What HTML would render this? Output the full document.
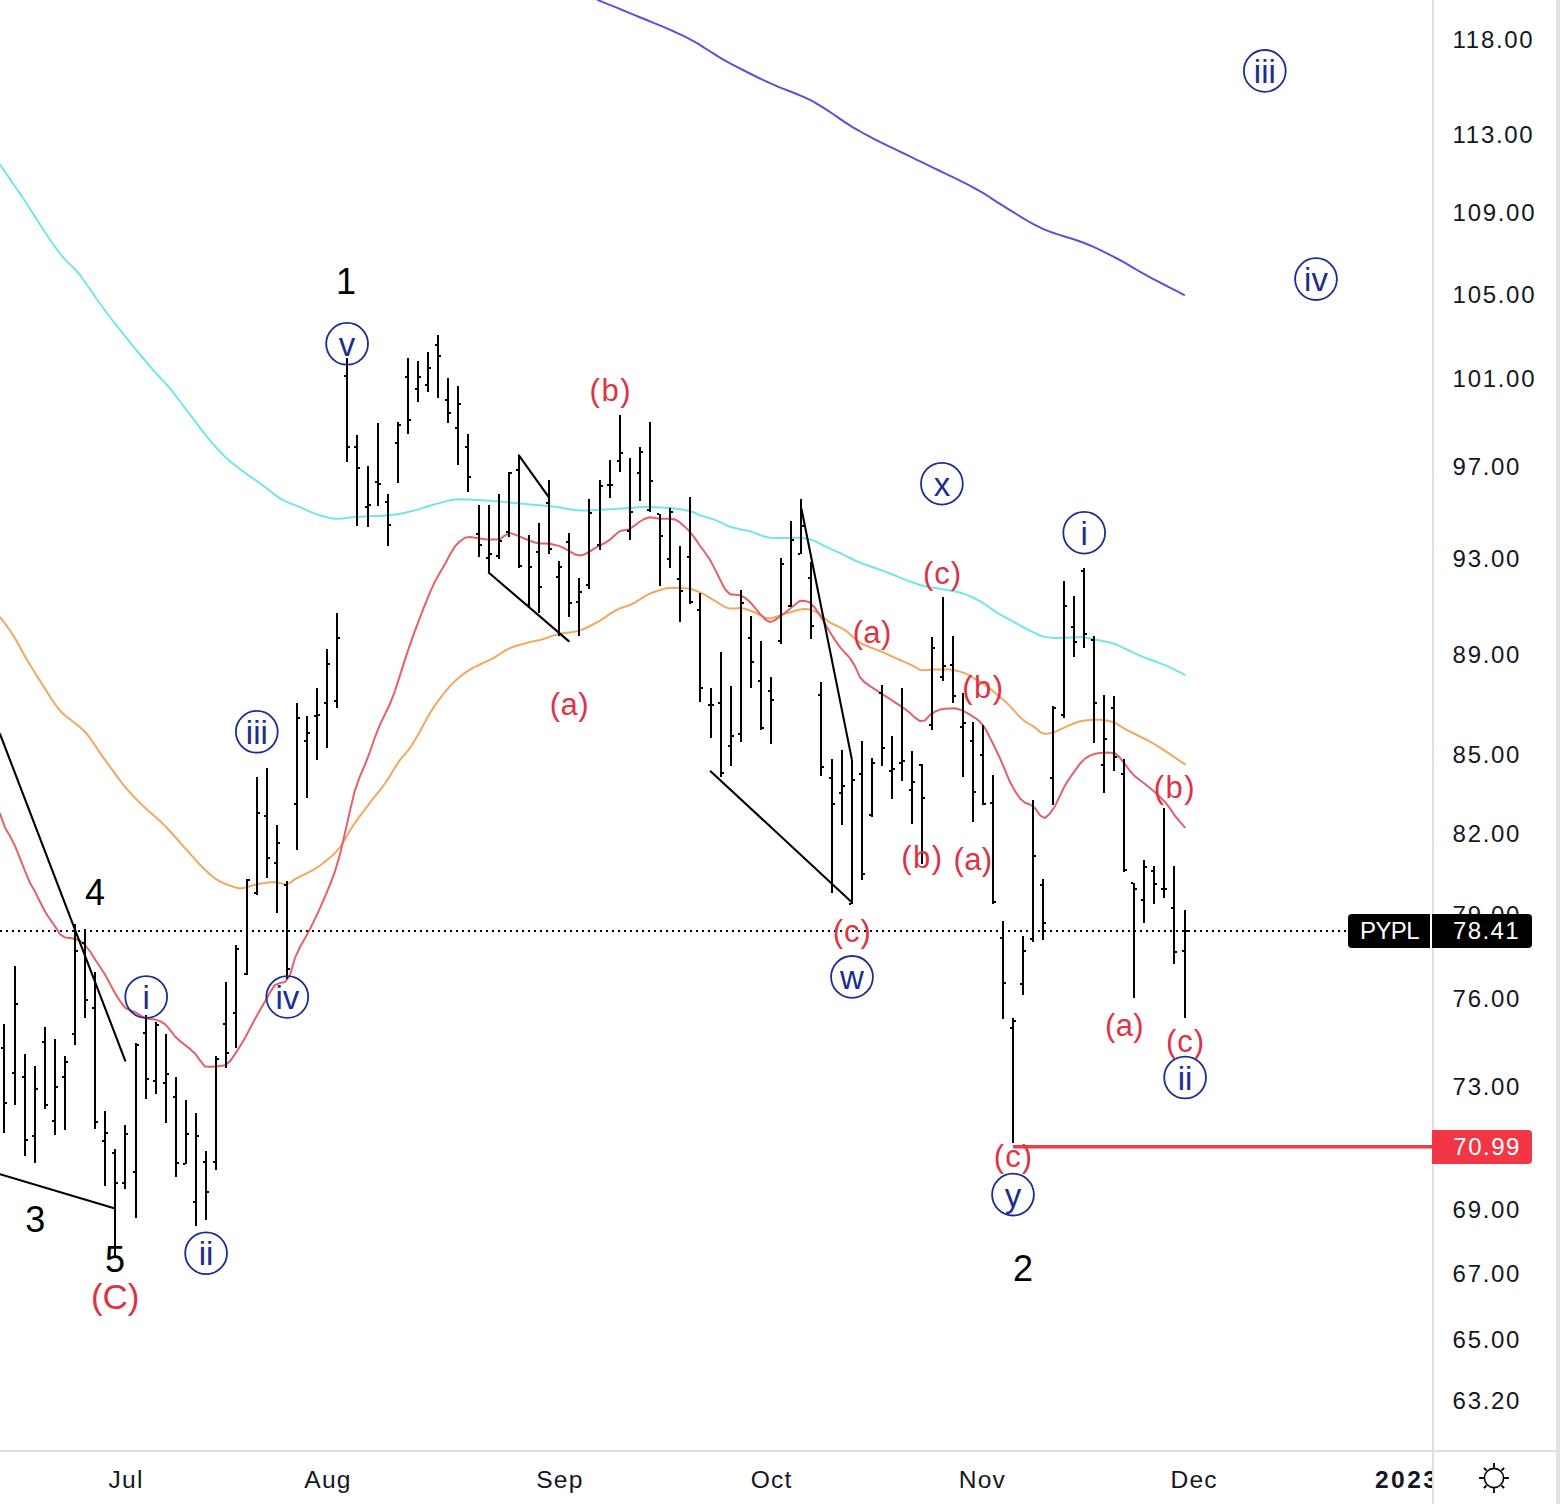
<!DOCTYPE html><html><head><meta charset="utf-8"><style>
html,body{margin:0;padding:0;background:#fff;}
body{width:1560px;height:1504px;overflow:hidden;font-family:"Liberation Sans",sans-serif;}
svg{display:block;}
</style></head><body>
<svg width="1560" height="1504" viewBox="0 0 1560 1504" font-family="Liberation Sans, sans-serif">
<rect x="0" y="0" width="1560" height="1504" fill="#ffffff"/>
<g fill="none" stroke-width="2" stroke-linejoin="round" stroke-linecap="round">
<path d="M597.9,0.0 L602.9,2.1 L607.9,4.1 L612.9,6.1 L617.9,8.2 L622.9,10.2 L627.9,12.3 L632.9,14.4 L637.9,16.5 L642.9,18.5 L647.9,20.5 L652.9,22.6 L657.9,24.6 L662.9,26.7 L667.9,28.8 L672.9,31.0 L677.9,33.3 L682.9,35.6 L687.9,38.1 L692.9,40.8 L697.9,43.7 L702.9,46.8 L707.9,50.0 L712.9,53.2 L717.9,56.3 L722.9,59.3 L727.9,62.1 L732.9,64.8 L737.9,67.4 L742.9,70.0 L747.9,72.5 L752.9,75.0 L757.9,77.5 L762.9,79.8 L767.9,82.2 L772.9,84.4 L777.9,86.6 L782.9,88.6 L787.9,90.5 L792.9,92.5 L797.9,94.5 L802.9,96.6 L807.9,98.9 L812.9,101.4 L817.9,104.3 L822.9,107.3 L827.9,110.6 L832.9,114.0 L837.9,117.4 L842.9,120.8 L847.9,124.1 L852.9,127.3 L857.9,130.2 L862.9,133.0 L867.9,135.7 L872.9,138.3 L877.9,140.8 L882.9,143.3 L887.9,145.8 L892.9,148.2 L897.9,150.6 L902.9,153.0 L907.9,155.4 L912.9,157.8 L917.9,160.3 L922.9,162.7 L927.9,165.2 L932.9,167.6 L937.9,170.0 L942.9,172.4 L947.9,174.8 L952.9,177.2 L957.9,179.6 L962.9,182.1 L967.9,184.7 L972.9,187.3 L977.9,190.0 L982.9,192.9 L987.9,196.0 L992.9,199.3 L997.9,202.6 L1002.9,205.7 L1007.9,208.8 L1012.9,211.9 L1017.9,215.0 L1022.9,218.1 L1027.9,221.0 L1032.9,223.8 L1037.9,226.4 L1042.9,228.8 L1047.9,230.9 L1052.9,232.7 L1057.9,234.4 L1062.9,236.0 L1067.9,237.5 L1072.9,239.0 L1077.9,240.7 L1082.9,242.5 L1087.9,244.5 L1092.9,246.6 L1097.9,248.9 L1102.9,251.3 L1107.9,253.8 L1112.9,256.4 L1117.9,259.0 L1122.9,261.7 L1127.9,264.6 L1132.9,267.6 L1137.9,270.5 L1142.9,273.4 L1147.9,276.1 L1152.9,278.8 L1157.9,281.4 L1162.9,284.0 L1167.9,286.6 L1172.9,289.1 L1177.9,291.7 L1182.9,294.3 L1184.1,294.9" stroke="#5b52d6"/>
<path d="M0.0,164.6 L5.0,171.8 L10.0,179.1 L15.0,186.3 L20.0,193.6 L25.0,201.0 L30.0,208.7 L35.0,216.6 L40.0,224.5 L45.0,232.3 L50.0,239.7 L55.0,246.9 L60.0,253.7 L65.0,259.6 L70.0,264.4 L75.0,269.2 L80.0,275.0 L85.0,282.0 L90.0,289.3 L95.0,296.6 L100.0,303.5 L105.0,310.3 L110.0,317.0 L115.0,323.6 L120.0,329.9 L125.0,336.2 L130.0,342.3 L135.0,348.4 L140.0,354.5 L145.0,360.5 L150.0,366.4 L155.0,372.1 L160.0,377.5 L165.0,382.9 L170.0,388.5 L175.0,394.7 L180.0,401.3 L185.0,408.0 L190.0,414.5 L195.0,421.2 L200.0,427.8 L205.0,434.2 L210.0,440.3 L215.0,446.1 L220.0,451.7 L225.0,456.8 L230.0,461.2 L235.0,465.3 L240.0,469.1 L245.0,472.8 L250.0,476.4 L255.0,479.9 L260.0,483.4 L265.0,487.0 L270.0,490.9 L275.0,494.9 L280.0,498.4 L285.0,501.1 L290.0,503.2 L295.0,505.1 L300.0,507.1 L305.0,509.4 L310.0,511.7 L315.0,513.6 L320.0,515.3 L325.0,516.8 L330.0,518.1 L335.0,518.7 L340.0,518.7 L345.0,518.2 L350.0,517.6 L355.0,517.0 L360.0,516.7 L365.0,516.5 L370.0,516.3 L375.0,516.1 L380.0,515.9 L385.0,515.6 L390.0,515.2 L395.0,514.5 L400.0,513.7 L405.0,512.7 L410.0,511.6 L415.0,510.4 L420.0,508.9 L425.0,507.3 L430.0,505.8 L435.0,504.3 L440.0,502.9 L445.0,501.6 L450.0,500.3 L455.0,499.5 L460.0,499.3 L465.0,499.4 L470.0,499.6 L475.0,499.9 L480.0,500.1 L485.0,500.4 L490.0,500.8 L495.0,501.2 L500.0,501.6 L505.0,502.0 L510.0,502.5 L515.0,503.0 L520.0,503.5 L525.0,503.9 L530.0,504.4 L535.0,504.9 L540.0,505.3 L545.0,505.8 L550.0,506.3 L555.0,506.8 L560.0,507.5 L565.0,508.4 L570.0,509.3 L575.0,510.1 L580.0,510.6 L585.0,510.6 L590.0,510.4 L595.0,510.1 L600.0,509.8 L605.0,509.5 L610.0,509.2 L615.0,508.9 L620.0,508.5 L625.0,508.2 L630.0,507.9 L635.0,507.5 L640.0,507.2 L645.0,507.0 L650.0,507.0 L655.0,507.2 L660.0,507.4 L665.0,507.7 L670.0,508.0 L675.0,508.5 L680.0,509.2 L685.0,510.1 L690.0,511.2 L695.0,513.0 L700.0,515.3 L705.0,516.9 L710.0,518.3 L715.0,519.9 L720.0,522.2 L725.0,524.7 L730.0,526.7 L735.0,528.1 L740.0,529.2 L745.0,530.2 L750.0,531.3 L755.0,533.0 L760.0,535.0 L765.0,536.8 L770.0,537.7 L775.0,537.9 L780.0,538.0 L785.0,538.1 L790.0,538.0 L795.0,537.8 L800.0,537.7 L805.0,538.4 L810.0,539.5 L815.0,541.1 L820.0,543.7 L825.0,546.4 L830.0,548.6 L835.0,550.8 L840.0,553.0 L845.0,555.4 L850.0,558.0 L855.0,560.5 L860.0,562.7 L865.0,564.5 L870.0,566.2 L875.0,568.0 L880.0,569.8 L885.0,571.6 L890.0,573.5 L895.0,575.5 L900.0,577.6 L905.0,579.6 L910.0,581.5 L915.0,583.3 L920.0,585.0 L925.0,586.3 L930.0,587.3 L935.0,588.0 L940.0,588.8 L945.0,589.7 L950.0,590.6 L955.0,591.5 L960.0,592.5 L965.0,594.1 L970.0,596.1 L975.0,598.5 L980.0,601.2 L985.0,604.3 L990.0,607.9 L995.0,611.3 L1000.0,614.3 L1005.0,617.1 L1010.0,619.9 L1015.0,622.7 L1020.0,625.5 L1025.0,628.1 L1030.0,630.7 L1035.0,633.1 L1040.0,635.5 L1045.0,637.1 L1050.0,637.6 L1055.0,637.9 L1060.0,637.9 L1065.0,637.7 L1070.0,637.4 L1075.0,637.2 L1080.0,637.1 L1085.0,637.5 L1090.0,638.6 L1095.0,639.7 L1100.0,640.6 L1105.0,641.5 L1110.0,642.5 L1115.0,644.0 L1120.0,646.3 L1125.0,648.7 L1130.0,651.0 L1135.0,653.3 L1140.0,655.6 L1145.0,657.7 L1150.0,659.5 L1155.0,661.3 L1160.0,663.1 L1165.0,665.1 L1170.0,667.4 L1175.0,669.9 L1180.0,672.4 L1184.8,674.8" stroke="#72e6ea"/>
<path d="M0.0,617.0 L5.0,623.7 L10.0,630.5 L15.0,638.2 L20.0,647.2 L25.0,656.3 L30.0,664.8 L35.0,673.0 L40.0,680.9 L45.0,688.6 L50.0,696.6 L55.0,704.2 L60.0,710.7 L65.0,715.5 L70.0,719.3 L75.0,723.3 L80.0,727.3 L85.0,731.9 L90.0,738.0 L95.0,745.4 L100.0,752.9 L105.0,759.9 L110.0,766.8 L115.0,773.7 L120.0,780.4 L125.0,786.8 L130.0,792.5 L135.0,797.9 L140.0,803.0 L145.0,807.8 L150.0,812.3 L155.0,816.4 L160.0,820.9 L165.0,825.9 L170.0,831.3 L175.0,836.7 L180.0,842.3 L185.0,848.1 L190.0,853.7 L195.0,859.3 L200.0,864.8 L205.0,869.8 L210.0,874.3 L215.0,878.4 L220.0,881.6 L225.0,883.8 L230.0,885.6 L235.0,887.2 L240.0,888.5 L245.0,887.8 L250.0,886.2 L255.0,884.7 L260.0,883.8 L265.0,882.9 L270.0,882.2 L275.0,881.9 L280.0,882.9 L285.0,884.4 L290.0,882.9 L295.0,879.1 L300.0,876.5 L305.0,874.2 L310.0,871.7 L315.0,868.9 L320.0,865.5 L325.0,861.6 L330.0,857.4 L335.0,852.9 L340.0,847.3 L345.0,839.4 L350.0,830.4 L355.0,822.8 L360.0,815.9 L365.0,809.3 L370.0,802.7 L375.0,796.3 L380.0,790.1 L385.0,783.5 L390.0,776.1 L395.0,767.6 L400.0,759.9 L405.0,754.1 L410.0,747.9 L415.0,740.0 L420.0,731.2 L425.0,722.0 L430.0,713.1 L435.0,705.1 L440.0,698.3 L445.0,692.0 L450.0,686.2 L455.0,681.1 L460.0,676.7 L465.0,672.9 L470.0,669.6 L475.0,666.9 L480.0,664.5 L485.0,662.2 L490.0,659.8 L495.0,657.2 L500.0,654.0 L505.0,650.6 L510.0,648.1 L515.0,646.3 L520.0,644.7 L525.0,643.4 L530.0,642.1 L535.0,641.1 L540.0,640.0 L545.0,638.5 L550.0,636.6 L555.0,634.9 L560.0,633.8 L565.0,633.1 L570.0,632.4 L575.0,631.6 L580.0,630.4 L585.0,628.5 L590.0,626.0 L595.0,623.4 L600.0,620.6 L605.0,617.3 L610.0,613.9 L615.0,610.8 L620.0,608.3 L625.0,606.7 L630.0,605.0 L635.0,602.5 L640.0,599.3 L645.0,596.1 L650.0,593.5 L655.0,591.7 L660.0,590.0 L665.0,588.6 L670.0,587.9 L675.0,587.8 L680.0,588.0 L685.0,588.2 L690.0,588.7 L695.0,590.3 L700.0,592.4 L705.0,594.9 L710.0,597.9 L715.0,600.8 L720.0,604.0 L725.0,607.1 L730.0,608.6 L735.0,608.4 L740.0,608.1 L745.0,608.7 L750.0,610.5 L755.0,612.5 L760.0,615.1 L765.0,617.5 L770.0,618.5 L775.0,617.3 L780.0,615.2 L785.0,613.6 L790.0,612.2 L795.0,610.8 L800.0,609.5 L805.0,609.1 L810.0,609.6 L815.0,611.4 L820.0,614.4 L825.0,618.8 L830.0,622.6 L835.0,625.0 L840.0,627.3 L845.0,630.1 L850.0,634.2 L855.0,638.8 L860.0,642.7 L865.0,645.3 L870.0,647.3 L875.0,649.1 L880.0,651.0 L885.0,653.2 L890.0,655.5 L895.0,657.8 L900.0,660.0 L905.0,662.1 L910.0,664.3 L915.0,667.0 L920.0,669.9 L925.0,670.3 L930.0,669.7 L935.0,669.6 L940.0,669.6 L945.0,669.6 L950.0,669.6 L955.0,670.3 L960.0,671.6 L965.0,673.4 L970.0,675.9 L975.0,678.8 L980.0,681.8 L985.0,685.1 L990.0,688.8 L995.0,692.7 L1000.0,696.9 L1005.0,701.3 L1010.0,706.1 L1015.0,711.7 L1020.0,717.3 L1025.0,721.6 L1030.0,724.5 L1035.0,727.4 L1040.0,732.0 L1045.0,733.9 L1050.0,733.2 L1055.0,732.0 L1060.0,729.7 L1065.0,727.2 L1070.0,725.1 L1075.0,723.0 L1080.0,721.2 L1085.0,720.4 L1090.0,720.0 L1095.0,719.7 L1100.0,719.7 L1105.0,720.3 L1110.0,721.3 L1115.0,722.8 L1120.0,725.8 L1125.0,729.0 L1130.0,731.6 L1135.0,734.0 L1140.0,736.5 L1145.0,739.0 L1150.0,741.6 L1155.0,744.5 L1160.0,747.7 L1165.0,750.9 L1170.0,754.2 L1175.0,757.6 L1180.0,761.0 L1184.8,764.2" stroke="#f2a85e"/>
<path d="M0.0,813.5 L5.0,827.7 L10.0,836.1 L15.0,845.9 L20.0,858.4 L25.0,871.0 L30.0,883.0 L35.0,891.6 L40.0,901.7 L45.0,911.5 L50.0,919.2 L55.0,926.4 L60.0,934.3 L65.0,937.4 L70.0,938.1 L75.0,939.0 L80.0,940.7 L85.0,945.0 L90.0,951.3 L95.0,959.4 L100.0,966.7 L105.0,974.5 L110.0,983.9 L115.0,993.2 L120.0,1001.2 L125.0,1007.6 L130.0,1010.3 L135.0,1012.1 L140.0,1015.2 L145.0,1018.1 L150.0,1019.1 L155.0,1019.6 L160.0,1021.1 L165.0,1024.1 L170.0,1029.9 L175.0,1036.5 L180.0,1041.1 L185.0,1045.0 L190.0,1048.9 L195.0,1053.4 L200.0,1060.4 L205.0,1066.6 L210.0,1066.8 L215.0,1066.5 L220.0,1066.0 L225.0,1065.3 L230.0,1061.4 L235.0,1054.1 L240.0,1046.2 L245.0,1037.9 L250.0,1028.5 L255.0,1019.0 L260.0,1010.1 L265.0,1001.5 L270.0,992.4 L275.0,984.9 L280.0,983.1 L285.0,982.1 L290.0,975.1 L295.0,957.8 L300.0,947.0 L305.0,938.2 L310.0,929.0 L315.0,918.9 L320.0,908.2 L325.0,896.7 L330.0,884.7 L335.0,871.3 L340.0,854.4 L345.0,832.7 L350.0,810.6 L355.0,790.1 L360.0,776.1 L365.0,764.6 L370.0,751.5 L375.0,737.0 L380.0,724.6 L385.0,714.3 L390.0,703.8 L395.0,690.8 L400.0,675.4 L405.0,659.4 L410.0,644.6 L415.0,630.6 L420.0,617.5 L425.0,604.7 L430.0,592.3 L435.0,581.3 L440.0,572.6 L445.0,564.0 L450.0,554.5 L455.0,546.4 L460.0,541.3 L465.0,537.7 L470.0,537.1 L475.0,537.7 L480.0,538.5 L485.0,539.2 L490.0,539.4 L495.0,539.4 L500.0,539.3 L505.0,535.4 L510.0,533.1 L515.0,534.6 L520.0,536.7 L525.0,538.7 L530.0,540.8 L535.0,542.6 L540.0,543.4 L545.0,543.6 L550.0,543.8 L555.0,544.9 L560.0,546.4 L565.0,548.6 L570.0,551.7 L575.0,554.4 L580.0,555.5 L585.0,554.2 L590.0,551.3 L595.0,548.1 L600.0,545.4 L605.0,542.8 L610.0,539.7 L615.0,535.1 L620.0,531.0 L625.0,530.1 L630.0,528.9 L635.0,525.2 L640.0,521.5 L645.0,518.7 L650.0,517.3 L655.0,517.9 L660.0,518.7 L665.0,518.7 L670.0,518.7 L675.0,519.4 L680.0,522.4 L685.0,526.9 L690.0,531.8 L695.0,538.4 L700.0,545.8 L705.0,552.5 L710.0,559.7 L715.0,569.4 L720.0,579.5 L725.0,589.2 L730.0,594.3 L735.0,594.7 L740.0,595.2 L745.0,597.8 L750.0,602.0 L755.0,607.9 L760.0,613.9 L765.0,619.3 L770.0,622.1 L775.0,620.1 L780.0,616.4 L785.0,612.8 L790.0,608.8 L795.0,604.6 L800.0,600.8 L805.0,600.9 L810.0,602.5 L815.0,608.0 L820.0,615.3 L825.0,623.8 L830.0,632.3 L835.0,640.1 L840.0,647.2 L845.0,652.8 L850.0,658.1 L855.0,666.1 L860.0,677.3 L865.0,682.7 L870.0,686.1 L875.0,689.4 L880.0,692.7 L885.0,695.8 L890.0,699.0 L895.0,702.3 L900.0,705.6 L905.0,709.0 L910.0,713.0 L915.0,717.7 L920.0,721.1 L925.0,720.5 L930.0,714.8 L935.0,711.7 L940.0,709.6 L945.0,708.8 L950.0,708.4 L955.0,708.2 L960.0,709.7 L965.0,711.9 L970.0,714.7 L975.0,717.8 L980.0,721.8 L985.0,728.0 L990.0,737.8 L995.0,747.8 L1000.0,758.3 L1005.0,770.0 L1010.0,782.1 L1015.0,791.1 L1020.0,798.4 L1025.0,802.7 L1030.0,804.5 L1035.0,808.0 L1040.0,815.3 L1045.0,818.1 L1050.0,813.4 L1055.0,806.2 L1060.0,795.5 L1065.0,785.4 L1070.0,777.7 L1075.0,770.7 L1080.0,763.7 L1085.0,758.6 L1090.0,755.6 L1095.0,753.8 L1100.0,753.0 L1105.0,752.6 L1110.0,752.7 L1115.0,753.2 L1120.0,757.8 L1125.0,764.1 L1130.0,771.0 L1135.0,776.4 L1140.0,780.3 L1145.0,784.0 L1150.0,788.1 L1155.0,792.3 L1160.0,796.9 L1165.0,801.9 L1170.0,808.4 L1175.0,816.0 L1180.0,821.9 L1184.8,827.3" stroke="#e2616a"/>
</g>
<g stroke="#000" stroke-width="2.1" stroke-linecap="round">
<line x1="0" y1="734" x2="125.2" y2="1060.6"/>
<line x1="0" y1="1174.2" x2="115" y2="1208.4"/>
<line x1="488.9" y1="572.7" x2="568.7" y2="641.1"/>
<line x1="518.9" y1="455.4" x2="548.9" y2="497.3"/>
<line x1="801.5" y1="509" x2="851.8" y2="759.1"/>
<line x1="710.8" y1="771.4" x2="851.8" y2="902.2"/>
</g>
<g fill="#000" shape-rendering="crispEdges">
<rect x="3" y="1024" width="2" height="109"/>
<rect x="1" y="1047" width="2" height="2"/>
<rect x="5" y="1102" width="2" height="2"/>
<rect x="14" y="966" width="2" height="139"/>
<rect x="12" y="1072" width="2" height="2"/>
<rect x="16" y="1003" width="2" height="2"/>
<rect x="24" y="1054" width="2" height="102"/>
<rect x="22" y="1076" width="2" height="2"/>
<rect x="26" y="1139" width="2" height="2"/>
<rect x="34" y="1066" width="2" height="97"/>
<rect x="32" y="1135" width="2" height="2"/>
<rect x="36" y="1088" width="2" height="2"/>
<rect x="44" y="1027" width="2" height="82"/>
<rect x="42" y="1041" width="2" height="2"/>
<rect x="46" y="1104" width="2" height="2"/>
<rect x="54" y="1039" width="2" height="96"/>
<rect x="52" y="1120" width="2" height="2"/>
<rect x="56" y="1086" width="2" height="2"/>
<rect x="64" y="1056" width="2" height="74"/>
<rect x="62" y="1076" width="2" height="2"/>
<rect x="66" y="1061" width="2" height="2"/>
<rect x="74" y="924" width="2" height="121"/>
<rect x="72" y="1033" width="2" height="2"/>
<rect x="76" y="950" width="2" height="2"/>
<rect x="84" y="929" width="2" height="89"/>
<rect x="82" y="942" width="2" height="2"/>
<rect x="86" y="999" width="2" height="2"/>
<rect x="94" y="972" width="2" height="157"/>
<rect x="92" y="1007" width="2" height="2"/>
<rect x="96" y="1121" width="2" height="2"/>
<rect x="104" y="1111" width="2" height="75"/>
<rect x="102" y="1140" width="2" height="2"/>
<rect x="106" y="1132" width="2" height="2"/>
<rect x="114" y="1149" width="2" height="107"/>
<rect x="112" y="1152" width="2" height="2"/>
<rect x="116" y="1182" width="2" height="2"/>
<rect x="124" y="1125" width="2" height="64"/>
<rect x="122" y="1182" width="2" height="2"/>
<rect x="126" y="1133" width="2" height="2"/>
<rect x="135" y="1043" width="2" height="175"/>
<rect x="133" y="1171" width="2" height="2"/>
<rect x="137" y="1044" width="2" height="2"/>
<rect x="145" y="1015" width="2" height="84"/>
<rect x="143" y="1032" width="2" height="2"/>
<rect x="147" y="1078" width="2" height="2"/>
<rect x="155" y="1022" width="2" height="72"/>
<rect x="153" y="1080" width="2" height="2"/>
<rect x="157" y="1024" width="2" height="2"/>
<rect x="165" y="1034" width="2" height="89"/>
<rect x="163" y="1082" width="2" height="2"/>
<rect x="167" y="1073" width="2" height="2"/>
<rect x="175" y="1077" width="2" height="100"/>
<rect x="173" y="1096" width="2" height="2"/>
<rect x="177" y="1162" width="2" height="2"/>
<rect x="185" y="1100" width="2" height="64"/>
<rect x="183" y="1163" width="2" height="2"/>
<rect x="187" y="1133" width="2" height="2"/>
<rect x="195" y="1113" width="2" height="113"/>
<rect x="193" y="1201" width="2" height="2"/>
<rect x="197" y="1135" width="2" height="2"/>
<rect x="205" y="1151" width="2" height="69"/>
<rect x="203" y="1161" width="2" height="2"/>
<rect x="207" y="1191" width="2" height="2"/>
<rect x="215" y="1056" width="2" height="114"/>
<rect x="213" y="1161" width="2" height="2"/>
<rect x="217" y="1058" width="2" height="2"/>
<rect x="225" y="982" width="2" height="86"/>
<rect x="223" y="1023" width="2" height="2"/>
<rect x="227" y="1052" width="2" height="2"/>
<rect x="235" y="945" width="2" height="103"/>
<rect x="233" y="1012" width="2" height="2"/>
<rect x="237" y="948" width="2" height="2"/>
<rect x="246" y="879" width="2" height="96"/>
<rect x="244" y="973" width="2" height="2"/>
<rect x="248" y="879" width="2" height="2"/>
<rect x="256" y="777" width="2" height="118"/>
<rect x="254" y="892" width="2" height="2"/>
<rect x="258" y="812" width="2" height="2"/>
<rect x="266" y="768" width="2" height="110"/>
<rect x="264" y="815" width="2" height="2"/>
<rect x="268" y="857" width="2" height="2"/>
<rect x="276" y="825" width="2" height="88"/>
<rect x="274" y="862" width="2" height="2"/>
<rect x="278" y="842" width="2" height="2"/>
<rect x="286" y="881" width="2" height="98"/>
<rect x="284" y="884" width="2" height="2"/>
<rect x="288" y="968" width="2" height="2"/>
<rect x="296" y="703" width="2" height="147"/>
<rect x="294" y="803" width="2" height="2"/>
<rect x="298" y="717" width="2" height="2"/>
<rect x="306" y="716" width="2" height="82"/>
<rect x="304" y="740" width="2" height="2"/>
<rect x="308" y="732" width="2" height="2"/>
<rect x="316" y="688" width="2" height="72"/>
<rect x="314" y="715" width="2" height="2"/>
<rect x="318" y="714" width="2" height="2"/>
<rect x="326" y="649" width="2" height="99"/>
<rect x="324" y="702" width="2" height="2"/>
<rect x="328" y="663" width="2" height="2"/>
<rect x="336" y="613" width="2" height="95"/>
<rect x="334" y="700" width="2" height="2"/>
<rect x="338" y="637" width="2" height="2"/>
<rect x="346" y="358" width="2" height="104"/>
<rect x="344" y="375" width="2" height="2"/>
<rect x="348" y="446" width="2" height="2"/>
<rect x="356" y="435" width="2" height="91"/>
<rect x="354" y="446" width="2" height="2"/>
<rect x="358" y="467" width="2" height="2"/>
<rect x="367" y="466" width="2" height="61"/>
<rect x="365" y="506" width="2" height="2"/>
<rect x="369" y="504" width="2" height="2"/>
<rect x="377" y="423" width="2" height="83"/>
<rect x="375" y="481" width="2" height="2"/>
<rect x="379" y="483" width="2" height="2"/>
<rect x="387" y="494" width="2" height="52"/>
<rect x="385" y="501" width="2" height="2"/>
<rect x="389" y="524" width="2" height="2"/>
<rect x="397" y="422" width="2" height="61"/>
<rect x="395" y="442" width="2" height="2"/>
<rect x="399" y="424" width="2" height="2"/>
<rect x="407" y="358" width="2" height="76"/>
<rect x="405" y="376" width="2" height="2"/>
<rect x="409" y="419" width="2" height="2"/>
<rect x="417" y="361" width="2" height="41"/>
<rect x="415" y="388" width="2" height="2"/>
<rect x="419" y="376" width="2" height="2"/>
<rect x="427" y="352" width="2" height="40"/>
<rect x="425" y="384" width="2" height="2"/>
<rect x="429" y="367" width="2" height="2"/>
<rect x="437" y="335" width="2" height="63"/>
<rect x="435" y="344" width="2" height="2"/>
<rect x="439" y="355" width="2" height="2"/>
<rect x="447" y="378" width="2" height="45"/>
<rect x="445" y="399" width="2" height="2"/>
<rect x="449" y="412" width="2" height="2"/>
<rect x="457" y="386" width="2" height="79"/>
<rect x="455" y="427" width="2" height="2"/>
<rect x="459" y="403" width="2" height="2"/>
<rect x="467" y="434" width="2" height="58"/>
<rect x="465" y="446" width="2" height="2"/>
<rect x="469" y="476" width="2" height="2"/>
<rect x="478" y="505" width="2" height="52"/>
<rect x="476" y="533" width="2" height="2"/>
<rect x="480" y="544" width="2" height="2"/>
<rect x="488" y="505" width="2" height="69"/>
<rect x="486" y="557" width="2" height="2"/>
<rect x="490" y="553" width="2" height="2"/>
<rect x="498" y="494" width="2" height="65"/>
<rect x="496" y="555" width="2" height="2"/>
<rect x="500" y="540" width="2" height="2"/>
<rect x="508" y="472" width="2" height="65"/>
<rect x="506" y="531" width="2" height="2"/>
<rect x="510" y="472" width="2" height="2"/>
<rect x="518" y="455" width="2" height="113"/>
<rect x="516" y="469" width="2" height="2"/>
<rect x="520" y="565" width="2" height="2"/>
<rect x="528" y="535" width="2" height="73"/>
<rect x="526" y="604" width="2" height="2"/>
<rect x="530" y="566" width="2" height="2"/>
<rect x="538" y="523" width="2" height="90"/>
<rect x="536" y="551" width="2" height="2"/>
<rect x="540" y="586" width="2" height="2"/>
<rect x="548" y="480" width="2" height="74"/>
<rect x="546" y="502" width="2" height="2"/>
<rect x="550" y="548" width="2" height="2"/>
<rect x="558" y="561" width="2" height="75"/>
<rect x="556" y="576" width="2" height="2"/>
<rect x="560" y="566" width="2" height="2"/>
<rect x="568" y="533" width="2" height="84"/>
<rect x="566" y="541" width="2" height="2"/>
<rect x="570" y="602" width="2" height="2"/>
<rect x="578" y="578" width="2" height="58"/>
<rect x="576" y="601" width="2" height="2"/>
<rect x="580" y="591" width="2" height="2"/>
<rect x="588" y="499" width="2" height="90"/>
<rect x="586" y="584" width="2" height="2"/>
<rect x="590" y="512" width="2" height="2"/>
<rect x="599" y="480" width="2" height="70"/>
<rect x="597" y="544" width="2" height="2"/>
<rect x="601" y="485" width="2" height="2"/>
<rect x="609" y="460" width="2" height="38"/>
<rect x="607" y="484" width="2" height="2"/>
<rect x="611" y="484" width="2" height="2"/>
<rect x="619" y="415" width="2" height="57"/>
<rect x="617" y="460" width="2" height="2"/>
<rect x="621" y="452" width="2" height="2"/>
<rect x="629" y="458" width="2" height="82"/>
<rect x="627" y="530" width="2" height="2"/>
<rect x="631" y="511" width="2" height="2"/>
<rect x="639" y="447" width="2" height="54"/>
<rect x="637" y="472" width="2" height="2"/>
<rect x="641" y="451" width="2" height="2"/>
<rect x="649" y="422" width="2" height="90"/>
<rect x="647" y="509" width="2" height="2"/>
<rect x="651" y="480" width="2" height="2"/>
<rect x="659" y="514" width="2" height="72"/>
<rect x="657" y="513" width="2" height="2"/>
<rect x="661" y="535" width="2" height="2"/>
<rect x="669" y="508" width="2" height="60"/>
<rect x="667" y="558" width="2" height="2"/>
<rect x="671" y="511" width="2" height="2"/>
<rect x="679" y="546" width="2" height="76"/>
<rect x="677" y="578" width="2" height="2"/>
<rect x="681" y="590" width="2" height="2"/>
<rect x="689" y="497" width="2" height="107"/>
<rect x="687" y="556" width="2" height="2"/>
<rect x="691" y="601" width="2" height="2"/>
<rect x="699" y="593" width="2" height="109"/>
<rect x="697" y="609" width="2" height="2"/>
<rect x="701" y="687" width="2" height="2"/>
<rect x="710" y="688" width="2" height="50"/>
<rect x="708" y="704" width="2" height="2"/>
<rect x="712" y="704" width="2" height="2"/>
<rect x="720" y="652" width="2" height="125"/>
<rect x="718" y="702" width="2" height="2"/>
<rect x="722" y="772" width="2" height="2"/>
<rect x="730" y="686" width="2" height="80"/>
<rect x="728" y="745" width="2" height="2"/>
<rect x="732" y="735" width="2" height="2"/>
<rect x="740" y="590" width="2" height="152"/>
<rect x="738" y="733" width="2" height="2"/>
<rect x="742" y="602" width="2" height="2"/>
<rect x="750" y="616" width="2" height="72"/>
<rect x="748" y="637" width="2" height="2"/>
<rect x="752" y="661" width="2" height="2"/>
<rect x="760" y="641" width="2" height="89"/>
<rect x="758" y="680" width="2" height="2"/>
<rect x="762" y="727" width="2" height="2"/>
<rect x="770" y="677" width="2" height="67"/>
<rect x="768" y="690" width="2" height="2"/>
<rect x="772" y="699" width="2" height="2"/>
<rect x="780" y="558" width="2" height="86"/>
<rect x="778" y="640" width="2" height="2"/>
<rect x="782" y="563" width="2" height="2"/>
<rect x="790" y="521" width="2" height="86"/>
<rect x="788" y="605" width="2" height="2"/>
<rect x="792" y="539" width="2" height="2"/>
<rect x="800" y="499" width="2" height="55"/>
<rect x="798" y="553" width="2" height="2"/>
<rect x="802" y="525" width="2" height="2"/>
<rect x="810" y="562" width="2" height="77"/>
<rect x="808" y="577" width="2" height="2"/>
<rect x="812" y="625" width="2" height="2"/>
<rect x="820" y="682" width="2" height="94"/>
<rect x="818" y="694" width="2" height="2"/>
<rect x="822" y="766" width="2" height="2"/>
<rect x="831" y="759" width="2" height="134"/>
<rect x="829" y="777" width="2" height="2"/>
<rect x="833" y="803" width="2" height="2"/>
<rect x="841" y="750" width="2" height="75"/>
<rect x="839" y="792" width="2" height="2"/>
<rect x="843" y="785" width="2" height="2"/>
<rect x="851" y="760" width="2" height="144"/>
<rect x="849" y="903" width="2" height="2"/>
<rect x="853" y="779" width="2" height="2"/>
<rect x="861" y="741" width="2" height="139"/>
<rect x="859" y="773" width="2" height="2"/>
<rect x="863" y="873" width="2" height="2"/>
<rect x="871" y="758" width="2" height="59"/>
<rect x="869" y="814" width="2" height="2"/>
<rect x="873" y="762" width="2" height="2"/>
<rect x="881" y="685" width="2" height="81"/>
<rect x="879" y="692" width="2" height="2"/>
<rect x="883" y="747" width="2" height="2"/>
<rect x="891" y="736" width="2" height="63"/>
<rect x="889" y="770" width="2" height="2"/>
<rect x="893" y="768" width="2" height="2"/>
<rect x="901" y="688" width="2" height="93"/>
<rect x="899" y="762" width="2" height="2"/>
<rect x="903" y="760" width="2" height="2"/>
<rect x="911" y="751" width="2" height="73"/>
<rect x="909" y="789" width="2" height="2"/>
<rect x="913" y="781" width="2" height="2"/>
<rect x="921" y="764" width="2" height="100"/>
<rect x="919" y="764" width="2" height="2"/>
<rect x="923" y="797" width="2" height="2"/>
<rect x="931" y="637" width="2" height="93"/>
<rect x="929" y="724" width="2" height="2"/>
<rect x="933" y="647" width="2" height="2"/>
<rect x="942" y="597" width="2" height="84"/>
<rect x="940" y="676" width="2" height="2"/>
<rect x="944" y="665" width="2" height="2"/>
<rect x="952" y="636" width="2" height="67"/>
<rect x="950" y="664" width="2" height="2"/>
<rect x="954" y="695" width="2" height="2"/>
<rect x="962" y="693" width="2" height="84"/>
<rect x="960" y="726" width="2" height="2"/>
<rect x="964" y="722" width="2" height="2"/>
<rect x="972" y="722" width="2" height="100"/>
<rect x="970" y="740" width="2" height="2"/>
<rect x="974" y="791" width="2" height="2"/>
<rect x="982" y="725" width="2" height="80"/>
<rect x="980" y="754" width="2" height="2"/>
<rect x="984" y="803" width="2" height="2"/>
<rect x="992" y="775" width="2" height="129"/>
<rect x="990" y="802" width="2" height="2"/>
<rect x="994" y="901" width="2" height="2"/>
<rect x="1002" y="921" width="2" height="98"/>
<rect x="1000" y="937" width="2" height="2"/>
<rect x="1004" y="982" width="2" height="2"/>
<rect x="1012" y="1018" width="2" height="125"/>
<rect x="1010" y="1027" width="2" height="2"/>
<rect x="1014" y="1020" width="2" height="2"/>
<rect x="1022" y="936" width="2" height="59"/>
<rect x="1020" y="983" width="2" height="2"/>
<rect x="1024" y="950" width="2" height="2"/>
<rect x="1032" y="800" width="2" height="142"/>
<rect x="1030" y="938" width="2" height="2"/>
<rect x="1034" y="855" width="2" height="2"/>
<rect x="1042" y="879" width="2" height="61"/>
<rect x="1040" y="884" width="2" height="2"/>
<rect x="1044" y="922" width="2" height="2"/>
<rect x="1052" y="706" width="2" height="99"/>
<rect x="1050" y="777" width="2" height="2"/>
<rect x="1054" y="707" width="2" height="2"/>
<rect x="1063" y="581" width="2" height="137"/>
<rect x="1061" y="714" width="2" height="2"/>
<rect x="1065" y="605" width="2" height="2"/>
<rect x="1073" y="596" width="2" height="61"/>
<rect x="1071" y="626" width="2" height="2"/>
<rect x="1075" y="641" width="2" height="2"/>
<rect x="1083" y="568" width="2" height="80"/>
<rect x="1081" y="570" width="2" height="2"/>
<rect x="1085" y="633" width="2" height="2"/>
<rect x="1093" y="636" width="2" height="107"/>
<rect x="1091" y="639" width="2" height="2"/>
<rect x="1095" y="702" width="2" height="2"/>
<rect x="1103" y="695" width="2" height="98"/>
<rect x="1101" y="764" width="2" height="2"/>
<rect x="1105" y="738" width="2" height="2"/>
<rect x="1113" y="696" width="2" height="75"/>
<rect x="1111" y="707" width="2" height="2"/>
<rect x="1115" y="756" width="2" height="2"/>
<rect x="1123" y="759" width="2" height="113"/>
<rect x="1121" y="773" width="2" height="2"/>
<rect x="1125" y="869" width="2" height="2"/>
<rect x="1133" y="883" width="2" height="115"/>
<rect x="1131" y="882" width="2" height="2"/>
<rect x="1135" y="888" width="2" height="2"/>
<rect x="1143" y="860" width="2" height="63"/>
<rect x="1141" y="899" width="2" height="2"/>
<rect x="1145" y="866" width="2" height="2"/>
<rect x="1153" y="866" width="2" height="38"/>
<rect x="1151" y="870" width="2" height="2"/>
<rect x="1155" y="883" width="2" height="2"/>
<rect x="1163" y="808" width="2" height="90"/>
<rect x="1161" y="888" width="2" height="2"/>
<rect x="1165" y="888" width="2" height="2"/>
<rect x="1173" y="866" width="2" height="98"/>
<rect x="1171" y="907" width="2" height="2"/>
<rect x="1175" y="951" width="2" height="2"/>
<rect x="1184" y="910" width="2" height="108"/>
<rect x="1182" y="950" width="2" height="2"/>
<rect x="1186" y="930" width="2" height="2"/>
</g>
<line x1="0" y1="931" x2="1348" y2="931" stroke="#000" stroke-width="2" stroke-dasharray="2 4" shape-rendering="crispEdges"/>
<rect x="1013" y="1145" width="420" height="3.5" fill="#ee3a4a"/>
<g fill="none" stroke="#1b2d8e" stroke-width="1.8">
<circle cx="347.1" cy="343.8" r="20.9"/>
<circle cx="256.8" cy="731.8" r="20.9"/>
<circle cx="287.3" cy="997" r="20.9"/>
<circle cx="146.2" cy="997" r="20.9"/>
<circle cx="206.1" cy="1253.2" r="20.9"/>
<circle cx="1264.8" cy="70.9" r="20.9"/>
<circle cx="1316" cy="279.1" r="20.9"/>
<circle cx="941.9" cy="483.7" r="20.9"/>
<circle cx="1084.2" cy="532.7" r="20.9"/>
<circle cx="852" cy="976.9" r="20.9"/>
<circle cx="1185.1" cy="1077.5" r="20.9"/>
<circle cx="1013" cy="1194.6" r="20.9"/>
</g>
<g fill="#1b2d8e" font-size="33" text-anchor="middle">
<text x="347.1" y="355.8">v</text>
<text x="256.8" y="743.8">iii</text>
<text x="287.3" y="1009.0">iv</text>
<text x="146.2" y="1009.0">i</text>
<text x="206.1" y="1265.2">ii</text>
<text x="1264.8" y="82.9">iii</text>
<text x="1316" y="291.1">iv</text>
<text x="941.9" y="495.7">x</text>
<text x="1084.2" y="544.7">i</text>
<text x="852" y="988.9">w</text>
<text x="1185.1" y="1089.5">ii</text>
<text x="1013" y="1206.6">y</text>
</g>
<g fill="#dd3347" font-size="31" text-anchor="middle">
<text x="1013.4" y="1166.6" letter-spacing="1.0">(c)</text>
<text x="610.8" y="401.0" letter-spacing="1.5">(b)</text>
<text x="569.4" y="714.6" letter-spacing="0.4">(a)</text>
<text x="942.6" y="584.3" letter-spacing="1.0">(c)</text>
<text x="872.2" y="643.2" letter-spacing="0.4">(a)</text>
<text x="983.5" y="697.9" letter-spacing="1.5">(b)</text>
<text x="922.5" y="867.9" letter-spacing="1.5">(b)</text>
<text x="973.0" y="869.8" letter-spacing="0.4">(a)</text>
<text x="852.3" y="941.8" letter-spacing="1.0">(c)</text>
<text x="1175.0" y="797.7" letter-spacing="1.5">(b)</text>
<text x="1124.5" y="1036.1" letter-spacing="0.4">(a)</text>
<text x="1185.5" y="1052.4" letter-spacing="1.0">(c)</text>
<text x="115.2" y="1309" font-size="35">(C)</text>
</g>
<g fill="#000" font-size="36" text-anchor="middle">
<text x="346" y="294.3">1</text>
<text x="95.1" y="904.9">4</text>
<text x="35.2" y="1232.1">3</text>
<text x="115.1" y="1271.7">5</text>
<text x="1023" y="1281">2</text>
</g>
<rect x="0" y="1450" width="1556" height="2" fill="#dfdfe2"/>
<rect x="1432" y="0" width="2" height="1504" fill="#dfdfe2"/>
<rect x="1556" y="0" width="4" height="1504" fill="#e1e2e6"/>
<g fill="#131722" font-size="24" letter-spacing="1.7">
<text x="1452.6" y="48.1">118.00</text>
<text x="1452.6" y="142.5">113.00</text>
<text x="1452.6" y="221.1">109.00</text>
<text x="1452.6" y="302.6">105.00</text>
<text x="1452.6" y="387.2">101.00</text>
<text x="1452.6" y="475.3">97.00</text>
<text x="1452.6" y="567.1">93.00</text>
<text x="1452.6" y="663.0">89.00</text>
<text x="1452.6" y="763.2">85.00</text>
<text x="1452.6" y="841.5">82.00</text>
<text x="1452.6" y="922.8">79.00</text>
<text x="1452.6" y="1007.2">76.00</text>
<text x="1452.6" y="1095.0">73.00</text>
<text x="1452.6" y="1217.8">69.00</text>
<text x="1452.6" y="1282.0">67.00</text>
<text x="1452.6" y="1348.0">65.00</text>
<text x="1452.6" y="1409.2">63.20</text>
</g>
<path d="M1352,914 H1430 V948 H1352 Q1348,948 1348,944 V918 Q1348,914 1352,914 Z" fill="#000"/>
<path d="M1432,914 H1528 Q1532,914 1532,918 V944 Q1532,948 1528,948 H1432 Z" fill="#000"/>
<text x="1360" y="939" fill="#fff" font-size="24" letter-spacing="-0.6">PYPL</text>
<text x="1453" y="939.3" fill="#fff" font-size="24" letter-spacing="1.4">78.41</text>
<path d="M1432,1130 H1528 Q1532,1130 1532,1134 V1160 Q1532,1164 1528,1164 H1432 Z" fill="#f23645"/>
<text x="1453.3" y="1154.6" fill="#fff" font-size="24" letter-spacing="1.5">70.99</text>
<g fill="#131722" font-size="24.6" text-anchor="middle" letter-spacing="1.2">
<text x="126.1" y="1488.3">Jul</text>
<text x="328.0" y="1488.3">Aug</text>
<text x="559.9" y="1488.3">Sep</text>
<text x="771.6" y="1488.3">Oct</text>
<text x="982.4" y="1488.3">Nov</text>
<text x="1194.2" y="1488.3">Dec</text>
</g>
<svg x="0" y="1452" width="1432" height="52" overflow="hidden"><text x="1375" y="36.3" fill="#131722" font-size="24.6" font-weight="bold" letter-spacing="2.4">2023</text></svg>
<circle cx="1494" cy="1478" r="9.6" fill="none" stroke="#000" stroke-width="1.6"/>
<path d="M1504.20,1478.00L1508.90,1478.00M1501.50,1485.50L1504.11,1488.11M1494.00,1488.20L1494.00,1492.90M1486.50,1485.50L1483.89,1488.11M1483.80,1478.00L1479.10,1478.00M1486.50,1470.50L1483.89,1467.89M1494.00,1467.80L1494.00,1463.10M1501.50,1470.50L1504.11,1467.89" stroke="#000" stroke-width="1.8" fill="none"/>
</svg></body></html>
